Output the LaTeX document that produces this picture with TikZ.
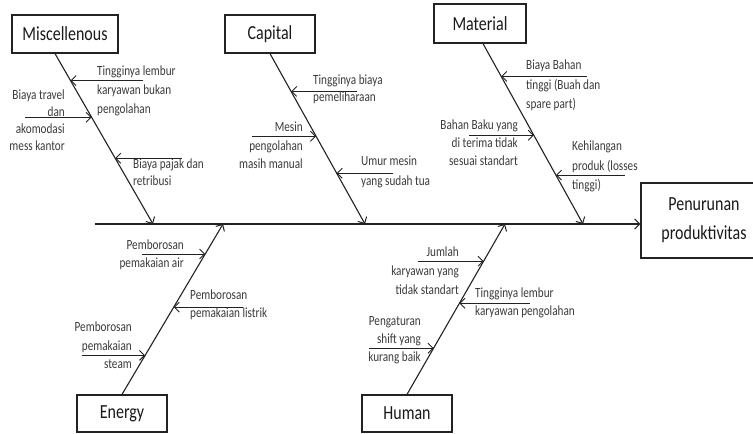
\documentclass[tikz,border=0pt]{standalone}
\usepackage{fontspec}
\setmainfont[FakeStretch=0.8]{Carlito}
\usetikzlibrary{arrows.meta,calc}
\definecolor{txtgray}{HTML}{3A3A3A}
\definecolor{lngray}{HTML}{222222}
\begin{document}
\begin{tikzpicture}[x=1pt,y=-1pt,
  titlebox/.style={draw=lngray,line width=1.2pt,fill=white,inner sep=0pt,
    font=\fontsize{20}{22}\selectfont,text=black!90},
  lbl/.style={inner sep=0pt,text=txtgray,font=\fontsize{14}{18}\selectfont},
  bone/.style={draw=lngray,line width=1.1pt,-{Straight Barb[length=5pt,width=10pt,line width=1pt]}},
  sub/.style={draw=lngray,line width=0.9pt,-{Straight Barb[length=5pt,width=10pt,line width=0.9pt]}}]
\useasboundingbox (0,0) rectangle (753,434);
\clip (0,0) rectangle (753,434);
% boxes
\node[titlebox,minimum width=106pt,minimum height=38pt] (misc) at (65,34) {Miscellenous};
\node[titlebox,minimum width=90pt,minimum height=38pt] (cap) at (270,34) {Capital};
\node[titlebox,minimum width=92pt,minimum height=39pt] (mat) at (480,23.5) {Material};
\node[titlebox,minimum width=90pt,minimum height=37pt] (ene) at (122,413.5) {Energy};
\node[titlebox,minimum width=90pt,minimum height=37pt] (hum) at (407,413.5) {Human};
\node[titlebox,minimum width=126pt,minimum height=75pt,align=center,
  font=\fontsize{20}{29}\selectfont] (pen) at (704,220.5) {Penurunan\\produktivitas};
% spine
\coordinate (sp) at (95,224);
\draw[bone] (sp) -- (sp -| pen.west);
% bone ends on spine
\coordinate (mt) at ($(misc.south)+(-10,0)$);
\coordinate (me) at (153,224);
\coordinate (ct) at (cap.south);
\coordinate (ce) at (365,224);
\coordinate (at) at ($(mat.south)+(3,0)$);
\coordinate (ae) at (583,224);
\coordinate (et) at (ene.north);
\coordinate (ee) at (223,224);
\coordinate (ht) at (hum.north);
\coordinate (he) at (505,224);
\draw[bone] (mt) -- (me);
\draw[bone] (ct) -- (ce);
\draw[bone] (at) -- (ae);
\draw[bone] (et) -- (ee);
\draw[bone] (ht) -- (he);
% points on bones
\path (mt) -- (me) coordinate[pos=0.158] (m1) coordinate[pos=0.374] (m2) coordinate[pos=0.614] (m3);
\path (ct) -- (ce) coordinate[pos=0.222] (c1) coordinate[pos=0.485] (c2) coordinate[pos=0.702] (c3);
\path (at) -- (ae) coordinate[pos=0.182] (a1) coordinate[pos=0.508] (a2) coordinate[pos=0.729] (a3);
\path (et) -- (ee) coordinate[pos=0.824] (e1) coordinate[pos=0.512] (e2) coordinate[pos=0.229] (e3);
\path (ht) -- (he) coordinate[pos=0.782] (h1) coordinate[pos=0.535] (h2) coordinate[pos=0.271] (h3);
% free ends
\coordinate (m1s) at (m1 -| 143,0);
\coordinate (m2s) at (m2 -| 25,0);
\coordinate (m3s) at (m3 -| 182,0);
\coordinate (c1s) at (c1 -| 357,0);
\coordinate (c2s) at (c2 -| 252,0);
\coordinate (c3s) at (c3 -| 393,0);
\coordinate (a1s) at (a1 -| 587,0);
\coordinate (a2s) at (a2 -| 469,0);
\coordinate (a3s) at (a3 -| 625,0);
\coordinate (e1s) at (e1 -| 142,0);
\coordinate (e2s) at (e2 -| 243,0);
\coordinate (e3s) at (e3 -| 82,0);
\coordinate (h1s) at (h1 -| 418,0);
\coordinate (h2s) at (h2 -| 530,0);
\coordinate (h3s) at (h3 -| 369,0);
\foreach \p in {m1,m2,m3,c1,c2,c3,a1,a2,a3,e1,e2,e3,h1,h2,h3}
  \draw[sub] (\p s) -- (\p);
% labels
\node[lbl,anchor=north west,align=left,font=\fontsize{14}{19}\selectfont] (tm1) at (97,66) {Tingginya lembur\\karyawan bukan\\pengolahan};
\node[lbl,anchor=north east,align=right,font=\fontsize{14}{17}\selectfont] (tm2) at (65,90) {Biaya travel\\dan\\akomodasi\\mess kantor};
\node[lbl,anchor=north west,align=left,font=\fontsize{14}{17}\selectfont] (tm3) at (133,159) {Biaya pajak dan\\retribusi};
\node[lbl,anchor=north west,align=left,font=\fontsize{14}{17}\selectfont] (tc1) at (313,75) {Tingginya biaya\\pemeliharaan};
\node[lbl,anchor=north east,align=right,font=\fontsize{14}{18.5}\selectfont] (tc2) at (303,122) {Mesin\\pengolahan\\masih manual};
\node[lbl,anchor=north west,align=left,font=\fontsize{14}{20}\selectfont] (tc3) at (361,156) {Umur mesin\\yang sudah tua};
\node[lbl,anchor=north west,align=left,font=\fontsize{14}{19.5}\selectfont] (ta1) at (526,60) {Biaya Bahan\\tinggi (Buah dan\\spare part)};
\node[lbl,anchor=north east,align=right] (ta2) at (518,120) {Bahan Baku yang\\di terima tidak\\sesuai standart};
\node[lbl,anchor=north west,align=left,font=\fontsize{14}{19.5}\selectfont] (ta3) at (572,141) {Kehilangan\\produk (losses\\tinggi)};
\node[lbl,anchor=north east,align=right] (te1) at (184,240) {Pemborosan\\pemakaian air};
\node[lbl,anchor=north west,align=left] (te2) at (190,290) {Pemborosan\\pemakaian listrik};
\node[lbl,anchor=north east,align=right,font=\fontsize{14}{18.5}\selectfont] (te3) at (132,322) {Pemborosan\\pemakaian\\steam};
\node[lbl,anchor=north east,align=right,font=\fontsize{14}{19}\selectfont] (th1) at (459,247) {Jumlah\\karyawan yang\\tidak standart};
\node[lbl,anchor=north west,align=left] (th2) at (475,288) {Tingginya lembur\\karyawan pengolahan};
\node[lbl,anchor=north east,align=right] (th3) at (421,316) {Pengaturan\\shift yang\\kurang baik};
\end{tikzpicture}
\end{document}
